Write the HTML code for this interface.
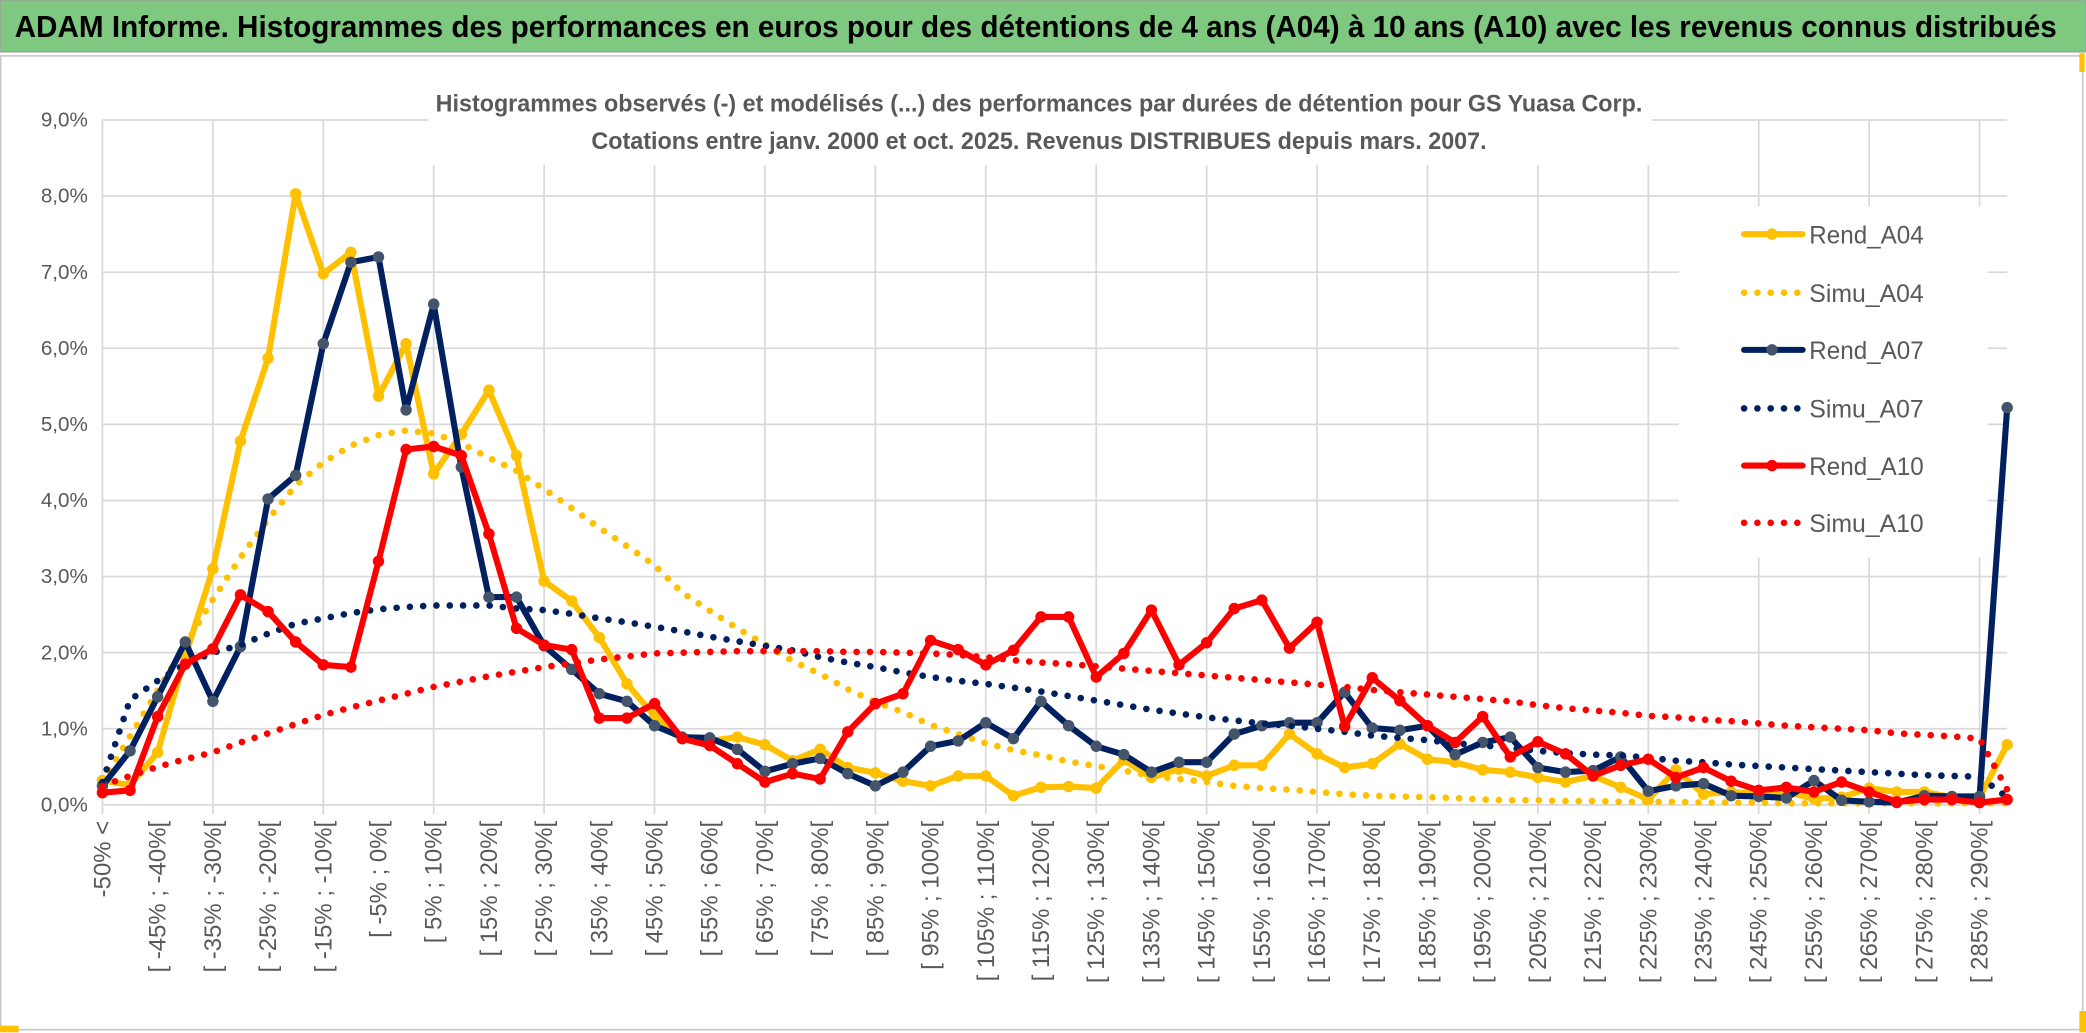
<!DOCTYPE html>
<html><head><meta charset="utf-8"><style>
html,body{margin:0;padding:0;background:#fff;}
svg{display:block;font-family:"Liberation Sans",sans-serif;}
</style></head><body>
<svg id="chart" width="2086" height="1033" viewBox="0 0 1568 776.5" preserveAspectRatio="none" xmlns="http://www.w3.org/2000/svg">
<rect x="0" y="0" width="1568" height="776.5" fill="#ffffff"/>
<rect x="0" y="0" width="1568" height="39" fill="#7ec87f" stroke="#a0a0a0" stroke-width="1"/>
<text x="11" y="28" font-size="23" font-weight="bold" fill="#000" textLength="1535" lengthAdjust="spacingAndGlyphs">ADAM Informe. Histogrammes des performances en euros pour des détentions de 4 ans (A04) à 10 ans (A10) avec les revenus connus distribués</text>
<rect x="0.5" y="42" width="1565" height="732" fill="none" stroke="#c8c8c8" stroke-width="1.2"/>
<rect x="1563" y="40" width="4" height="14" fill="#ffc000"/>
<rect x="0" y="771" width="14" height="5" fill="#ffc000"/>
<rect x="1563" y="760" width="5" height="16" fill="#ffc000"/>
<g id="grid"></g>
<g id="axes"></g>
<rect x="322" y="56" width="920" height="68" fill="#fff"/>
<text x="781" y="84" font-size="18" font-weight="bold" fill="#595959" text-anchor="middle" textLength="907" lengthAdjust="spacingAndGlyphs">Histogrammes observés (-) et modélisés (...) des performances par durées de détention pour GS Yuasa Corp.</text>
<text x="781" y="112" font-size="18" font-weight="bold" fill="#595959" text-anchor="middle" textLength="673" lengthAdjust="spacingAndGlyphs">Cotations entre janv. 2000 et oct. 2025. Revenus DISTRIBUES depuis mars. 2007.</text>
<rect x="1262" y="155" width="232" height="264" fill="#fff"/>
<g id="series"></g>
<g id="legend"></g>
</svg>
<script>
const categories = ["-50% <"];
for (let a = -50; a <= 290; a += 5) categories.push("[ " + a + "% ; " + (a + 5) + "%[");
const yTicks = [0,1,2,3,4,5,6,7,8,9];
const yTickLabels = ["0,0%","1,0%","2,0%","3,0%","4,0%","5,0%","6,0%","7,0%","8,0%","9,0%"];
const rendA04 = [0.32,0.26,0.69,1.95,3.1,4.78,5.87,8.03,6.98,7.26,5.37,6.06,4.35,4.87,5.45,4.59,2.94,2.68,2.2,1.59,1.17,0.89,0.84,0.89,0.79,0.58,0.73,0.49,0.42,0.31,0.25,0.38,0.38,0.12,0.23,0.24,0.22,0.59,0.36,0.47,0.38,0.52,0.52,0.93,0.67,0.49,0.54,0.8,0.6,0.56,0.46,0.43,0.36,0.3,0.38,0.23,0.07,0.46,0.14,0.17,0.14,0.17,0.08,0.1,0.22,0.17,0.17,0.1,0.1,0.79];
const simuA04 = [0.3,0.9,1.5,2.1,2.7,3.25,3.75,4.2,4.5,4.72,4.86,4.92,4.88,4.75,4.56,4.39,4.15,3.9,3.64,3.4,3.15,2.79,2.55,2.32,2.11,1.89,1.72,1.52,1.35,1.22,1.05,0.93,0.81,0.72,0.65,0.57,0.51,0.45,0.38,0.34,0.3,0.25,0.22,0.2,0.17,0.14,0.12,0.11,0.1,0.09,0.07,0.06,0.06,0.05,0.05,0.04,0.04,0.04,0.03,0.03,0.03,0.02,0.02,0.02,0.02,0.02,0.02,0.02,0.02,0.02];
const rendA07 = [0.25,0.71,1.42,2.14,1.36,2.08,4.02,4.33,6.06,7.13,7.2,5.19,6.58,4.44,2.73,2.73,2.09,1.78,1.46,1.36,1.04,0.89,0.88,0.73,0.44,0.54,0.61,0.41,0.25,0.43,0.77,0.84,1.08,0.87,1.36,1.04,0.77,0.66,0.43,0.56,0.56,0.93,1.04,1.08,1.08,1.48,1.01,0.98,1.04,0.66,0.82,0.89,0.49,0.43,0.45,0.63,0.18,0.25,0.28,0.12,0.11,0.09,0.32,0.06,0.04,0.03,0.12,0.11,0.11,5.22];
const simuA07 = [0.3,1.38,1.63,1.85,2.0,2.1,2.25,2.38,2.45,2.52,2.57,2.6,2.62,2.62,2.62,2.58,2.56,2.51,2.45,2.4,2.34,2.28,2.21,2.15,2.09,2.03,1.94,1.87,1.81,1.74,1.68,1.63,1.59,1.54,1.49,1.43,1.37,1.31,1.25,1.2,1.15,1.11,1.07,1.04,1.0,0.96,0.91,0.88,0.85,0.81,0.78,0.75,0.71,0.68,0.66,0.65,0.62,0.58,0.56,0.53,0.51,0.49,0.47,0.45,0.43,0.41,0.39,0.38,0.37,0.1];
const rendA10 = [0.16,0.19,1.16,1.85,2.05,2.76,2.54,2.14,1.84,1.81,3.2,4.67,4.71,4.59,3.56,2.32,2.1,2.04,1.14,1.14,1.33,0.87,0.78,0.54,0.3,0.41,0.34,0.96,1.33,1.46,2.16,2.04,1.84,2.03,2.47,2.47,1.68,1.99,2.56,1.84,2.13,2.58,2.69,2.06,2.4,1.03,1.67,1.37,1.04,0.82,1.16,0.63,0.83,0.67,0.38,0.52,0.6,0.36,0.49,0.31,0.19,0.23,0.17,0.3,0.17,0.04,0.07,0.07,0.03,0.07];
const simuA10 = [0.25,0.38,0.5,0.6,0.69,0.82,0.94,1.06,1.18,1.28,1.37,1.46,1.55,1.62,1.69,1.75,1.81,1.86,1.91,1.95,1.99,2.0,2.01,2.02,2.02,2.02,2.02,2.01,2.01,2.0,1.99,1.97,1.94,1.9,1.87,1.85,1.82,1.79,1.76,1.73,1.7,1.67,1.64,1.61,1.58,1.55,1.51,1.48,1.45,1.42,1.39,1.36,1.31,1.27,1.24,1.21,1.17,1.15,1.12,1.1,1.07,1.04,1.02,1.0,0.98,0.94,0.92,0.9,0.87,0.2];

const NS = "http://www.w3.org/2000/svg";
const X0 = 77, DX = 20.75, Y0 = 605, DY = 57.2;
function xAt(i){ return X0 + DX * i; }
function yAt(v){ return Y0 - DY * v; }
function mk(tag, attrs, parent){
  const e = document.createElementNS(NS, tag);
  for (const k in attrs) e.setAttribute(k, attrs[k]);
  parent.appendChild(e);
  return e;
}
const grid = document.getElementById("grid");
const axes = document.getElementById("axes");
const xEnd = xAt(categories.length - 1);
yTicks.forEach((t, j) => {
  const l = mk("line", {x1: X0, x2: xEnd, y1: yAt(t), y2: yAt(t), stroke: "#d9d9d9", "stroke-width": 1.3}, grid);
  
  
  const tx = mk("text", {x: 66, y: yAt(t) + 5, "font-size": 15.5, fill: "#595959", "text-anchor": "end"}, axes);
  tx.textContent = yTickLabels[j];
  
  
});
categories.forEach((c, i) => {
  if (i % 4 === 0) {
    const l = mk("line", {x1: xAt(i), x2: xAt(i), y1: yAt(9), y2: Y0 + 7, stroke: "#d9d9d9", "stroke-width": 1.3}, grid);
    
    
  }
  if (i % 2 === 0) {
    const x = xAt(i) + 6, y = 617;
    const tx = mk("text", {x: x, y: y, "font-size": 18, fill: "#595959", "text-anchor": "end", transform: "rotate(-90 " + x + " " + y + ")"}, axes);
    tx.textContent = c;
    
    
  }
});
const seriesDefs = [
  {name: "Rend_A04", data: rendA04, color: "#ffc000", marker: "#ffc000", dotted: false},
  {name: "Simu_A04", data: simuA04, color: "#ffc000", dotted: true},
  {name: "Rend_A07", data: rendA07, color: "#002060", marker: "#44546a", dotted: false},
  {name: "Simu_A07", data: simuA07, color: "#002060", dotted: true},
  {name: "Rend_A10", data: rendA10, color: "#ff0000", marker: "#ff0000", dotted: false},
  {name: "Simu_A10", data: simuA10, color: "#ff0000", dotted: true}
];
const sl = document.getElementById("series");
seriesDefs.forEach(s => {
  const g = mk("g", {}, sl);
  
  
  const pts = s.data.map((v, i) => xAt(i).toFixed(2) + "," + yAt(v).toFixed(2)).join(" ");
  const attrs = {points: pts, fill: "none", stroke: s.color, "stroke-linejoin": "round"};
  if (s.dotted) { attrs["stroke-width"] = 5; attrs["stroke-dasharray"] = "0 10"; attrs["stroke-linecap"] = "round"; }
  else { attrs["stroke-width"] = 4.6; }
  const pl = mk("polyline", attrs, g);
  
  
  if (!s.dotted) {
    s.data.forEach((v, i) => {
      const c = mk("circle", {cx: xAt(i), cy: yAt(v), r: 4.3, fill: s.marker}, g);
      
      
    });
  }
});
const lg = document.getElementById("legend");
const legendY = [176, 220, 263, 307, 350, 393];
seriesDefs.forEach((s, k) => {
  const g = mk("g", {}, lg);
  
  
  const y = legendY[k];
  if (s.dotted) {
    mk("line", {x1: 1311, x2: 1353, y1: y, y2: y, stroke: s.color, "stroke-width": 5, "stroke-dasharray": "0 10", "stroke-linecap": "round"}, g);
  } else {
    mk("line", {x1: 1311, x2: 1355, y1: y, y2: y, stroke: s.color, "stroke-width": 4.6, "stroke-linecap": "round"}, g);
    mk("circle", {cx: 1332, cy: y, r: 4.3, fill: s.marker}, g);
  }
  const t = mk("text", {x: 1360, y: y + 7, "font-size": 19, fill: "#595959", textLength: 86, lengthAdjust: "spacingAndGlyphs"}, g);
  t.textContent = s.name;
});
</script>
</body></html>
